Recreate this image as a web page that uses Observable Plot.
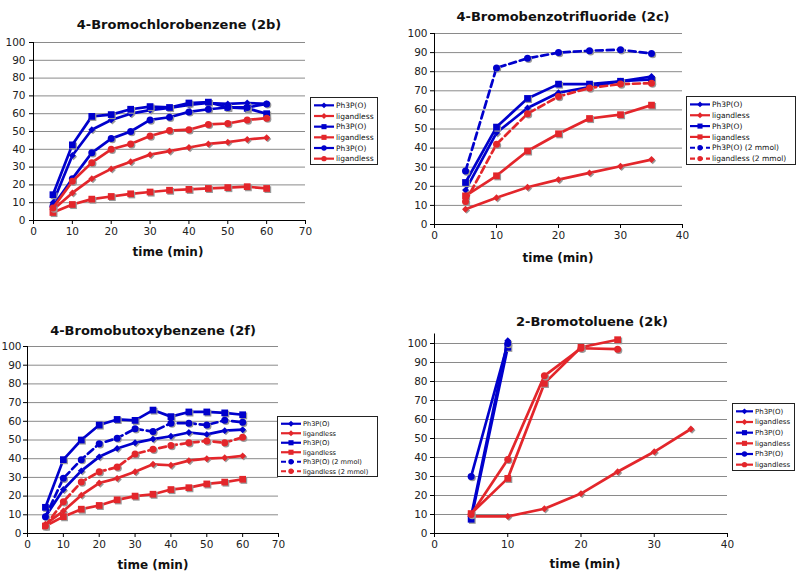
<!DOCTYPE html>
<html><head><meta charset="utf-8">
<script src="https://cdn.jsdelivr.net/npm/d3@7"></script>
<script src="https://cdn.jsdelivr.net/npm/@observablehq/plot@0.6"></script>
<style>
body{margin:0;background:#fff}
#root{position:relative;width:800px;height:574px;overflow:hidden;background:#fff;font-family:"DejaVu Sans",Verdana,sans-serif}
.title{position:absolute;font-weight:bold;font-size:13px;transform:translate(-50%,-50%);white-space:nowrap;color:#111}
.xlab{position:absolute;font-weight:bold;font-size:12px;transform:translate(-50%,-50%);white-space:nowrap;color:#111}
.chart{position:absolute}
.legend{position:absolute;border:1px solid #222;background:#fff;box-sizing:border-box}
</style></head>
<body><div id="root"></div>
<script>
// ---------- 4-Bromochlorobenzene (2b) ----------
const time2b = [5,10,15,20,25,30,35,40,45,50,55,60];
const ph3po_diamond_2b     = [10,36.5,51,56.5,60,62,63.3,65,66,65.5,66,65.5];
const ligandless_diamond_2b= [6,15.5,23.5,29,33,37,39,41,43,44,45.5,46.5];
const ph3po_square_2b      = [14.5,42.5,58.5,59.5,62.5,64,63.5,66,66.5,63.5,63,60];
const ligandless_square_2b = [4.5,9,12,13.5,15,16,17,17.5,18,18.5,19,18];
const ph3po_circle_2b      = [8,23.5,38,46,50,56.5,58,61,62.5,63.5,63.5,65.5];
const ligandless_circle_2b = [7,22,32.5,40,43,47.5,50.5,51,54,54.5,56.5,57.5];

// ---------- 4-Bromobenzotrifluoride (2c) ----------
const time2c = [5,10,15,20,25,30,35];
const ph3po_diamond_2c      = [18,48,61,69,72,75,77.5];
const ligandless_diamond_2c = [8,14,19.5,23.5,27,30.5,34];
const ph3po_square_2c       = [22,51,66,73.5,73.5,75,76];
const ligandless_square_2c  = [15,25.5,38.5,47.5,55.5,57.5,62.5];
const ph3po_2mmol_2c        = [28,82,87,90,91,91.5,89.5];
const ligandless_2mmol_2c   = [12,42,58,67,71.5,73.5,74];

// ---------- 4-Bromobutoxybenzene (2f) ----------
const time2f = [5,10,15,20,25,30,35,40,45,50,55,60];
const ph3po_diamond_2f      = [9,23.5,33.5,41,45.5,48.5,50.5,52,54,53,55,55.5];
const ligandless_diamond_2f = [5,12,20.5,27,29.5,33,37,36.5,39,40,40.5,41.5];
const ph3po_square_2f       = [14,39.5,50,58,61,60.5,66,62.5,65,65,64.5,63.5];
const ligandless_square_2f  = [4,9,13,15,18,20,21,23.5,24.5,26.5,27.5,29];
const ph3po_2mmol_2f        = [9,29.5,39.5,48,51,56,54.5,59,59,58,60.5,59.5];
const ligandless_2mmol_2f   = [4,17,27.5,33,35.5,42.5,45,47,48.5,49.5,48.5,51.5];

// ---------- 2-Bromotoluene (2k) ----------
const time2k_ph3po = [5,10];
const ph3po_diamond_2k = [9,101.5];
const ph3po_square_2k  = [7.5,98];
const ph3po_circle_2k  = [30,100];
const time2k_ligandless_diamond = [5,10,15,20,25,30,35];
const ligandless_diamond_2k = [9,9,13,21,32.5,43,55];
const time2k_ligandless = [5,10,15,20,25];
const ligandless_square_2k = [10.5,29,79,98,102];
const ligandless_circle_2k = [10,39,83,97.5,97];

// ---------- labels ----------
const titles = ["4-Bromochlorobenzene (2b)","4-Bromobenzotrifluoride (2c)","4-Bromobutoxybenzene (2f)","2-Bromotoluene (2k)"];
const xLabel = "time (min)";
const labelPh = "Ph3P(O)", labelLig = "ligandless";

const BLUE = "#0000cc", RED = "#e3262b";

const panels = [
  {title:titles[0], tx:179, ty:24, lx:168, ly:252,
   svg:{left:0, top:30, width:345, height:215, ml:33, mr:40, mt:12, mb:25}, xmax:70, ymax:100, yPad:4,
   legend:{left:310, top:97, width:68, height:68, font:7.5, lineLen:20},
   series:[
    {label:labelPh, t:time2b, v:ph3po_diamond_2b, c:BLUE, sym:"diamond2"},
    {label:labelLig, t:time2b, v:ligandless_diamond_2b, c:RED, sym:"diamond2"},
    {label:labelPh, t:time2b, v:ph3po_square_2b, c:BLUE, sym:"square"},
    {label:labelLig, t:time2b, v:ligandless_square_2b, c:RED, sym:"square"},
    {label:labelPh, t:time2b, v:ph3po_circle_2b, c:BLUE, sym:"circle"},
    {label:labelLig, t:time2b, v:ligandless_circle_2b, c:RED, sym:"circle"}]},
  {title:titles[1], tx:563, ty:16, lx:558, ly:258,
   svg:{left:400, top:25, width:290, height:225, ml:34, mr:8, mt:8, mb:26}, xmax:40, ymax:100, yPad:3,
   legend:{left:686, top:96, width:110, height:69, font:7.5, lineLen:20},
   series:[
    {label:labelPh, t:time2c, v:ph3po_diamond_2c, c:BLUE, sym:"diamond2"},
    {label:labelLig, t:time2c, v:ligandless_diamond_2c, c:RED, sym:"diamond2"},
    {label:labelPh, t:time2c, v:ph3po_square_2c, c:BLUE, sym:"square"},
    {label:labelLig, t:time2c, v:ligandless_square_2c, c:RED, sym:"square"},
    {label:"Ph3P(O) (2 mmol)", t:time2c, v:ph3po_2mmol_2c, c:BLUE, sym:"circle", dash:true},
    {label:"ligandless  (2 mmol)", t:time2c, v:ligandless_2mmol_2c, c:RED, sym:"circle", dash:true}]},
  {title:titles[2], tx:153, ty:330, lx:153, ly:565,
   svg:{left:0, top:336, width:290, height:222, ml:27, mr:12, mt:10, mb:25}, xmax:70, ymax:100, yPad:2,
   legend:{left:277, top:416, width:101, height:61, font:6.6, lineLen:20},
   series:[
    {label:labelPh, t:time2f, v:ph3po_diamond_2f, c:BLUE, sym:"diamond2"},
    {label:labelLig, t:time2f, v:ligandless_diamond_2f, c:RED, sym:"diamond2"},
    {label:labelPh, t:time2f, v:ph3po_square_2f, c:BLUE, sym:"square"},
    {label:labelLig, t:time2f, v:ligandless_square_2f, c:RED, sym:"square"},
    {label:"Ph3P(O)  (2 mmol)", t:time2f, v:ph3po_2mmol_2f, c:BLUE, sym:"circle", dash:true},
    {label:"ligandless (2 mmol)", t:time2f, v:ligandless_2mmol_2f, c:RED, sym:"circle", dash:true}]},
  {title:titles[3], tx:592, ty:321, lx:585, ly:564,
   svg:{left:400, top:323, width:335, height:235, ml:34, mr:8, mt:10.5, mb:25}, xmax:40, ymax:105, yTop:100, yPad:3,
   legend:{left:732, top:403, width:63, height:68, font:7, lineLen:17},
   series:[
    {label:labelPh, t:time2k_ph3po, v:ph3po_diamond_2k, c:BLUE, sym:"diamond2"},
    {label:labelLig, t:time2k_ligandless_diamond, v:ligandless_diamond_2k, c:RED, sym:"diamond2"},
    {label:labelPh, t:time2k_ph3po, v:ph3po_square_2k, c:BLUE, sym:"square"},
    {label:labelLig, t:time2k_ligandless, v:ligandless_square_2k, c:RED, sym:"square"},
    {label:labelPh, t:time2k_ph3po, v:ph3po_circle_2k, c:BLUE, sym:"circle"},
    {label:labelLig, t:time2k_ligandless, v:ligandless_circle_2k, c:RED, sym:"circle"}]}
];

const symR = {diamond2:3.1, square:3.8, circle:3.5};
const root = document.getElementById("root");

function addText(cls, text, x, y) {
  const d = document.createElement("div");
  d.className = cls; d.textContent = text;
  d.style.left = x + "px"; d.style.top = y + "px";
  root.appendChild(d);
}

for (const p of panels) {
  const s = p.svg;
  const yTop = p.yTop ?? p.ymax;
  const yTicks = d3.range(0, yTop + 1, 10);
  const xTicks = d3.range(0, p.xmax + 1, 10);
  const marks = [
    Plot.gridY(yTicks.filter(d => d > 0), {stroke:"#8a8a8a", strokeOpacity:1, strokeWidth:1}),
    Plot.axisY(yTicks, {tickSize:4, tickPadding:p.yPad, stroke:"#000", fill:"#222", label:null}),
    Plot.axisX(xTicks, {tickSize:4, tickPadding:3, stroke:"#000", fill:"#222", label:null}),
    Plot.ruleX([0], {stroke:"#000", strokeWidth:1}),
    Plot.ruleY([0], {stroke:"#000", strokeWidth:1})
  ];
  for (const ser of p.series) {
    const data = ser.t.map((t, i) => ({t, v: ser.v[i]}));
    marks.push(Plot.line(data, {x:"t", y:"v", stroke:ser.c, strokeWidth:2.7,
      strokeDasharray: ser.dash ? "7,4" : null, strokeLinejoin:"round"}));
    marks.push(Plot.dot(data, {x:"t", y:"v", symbol:ser.sym, r:symR[ser.sym], fill:"#999", dx:1.2, dy:1.2}));
    marks.push(Plot.dot(data, {x:"t", y:"v", symbol:ser.sym, r:symR[ser.sym], fill:ser.c}));
  }
  const chart = Plot.plot({
    width:s.width, height:s.height,
    marginLeft:s.ml, marginRight:s.mr, marginTop:s.mt, marginBottom:s.mb,
    x:{domain:[0, p.xmax], label:null},
    y:{domain:[0, p.ymax], label:null},
    style:{fontFamily:'"DejaVu Sans",Verdana,sans-serif', fontSize:"10.5px", background:"transparent", overflow:"visible"},
    marks
  });
  chart.classList.add("chart");
  chart.style.left = s.left + "px"; chart.style.top = s.top + "px";
  root.appendChild(chart);

  addText("title", p.title, p.tx, p.ty);
  addText("xlab", xLabel, p.lx, p.ly);

  // legend
  const L = p.legend;
  const box = document.createElement("div");
  box.className = "legend";
  box.style.left = L.left + "px";
  box.style.top = L.top + "px";
  box.style.width = L.width + "px"; box.style.height = L.height + "px";
  root.appendChild(box);
  const svg = d3.select(box).append("svg").attr("width", L.width - 2).attr("height", L.height - 2)
    .style("position","absolute").style("left","0").style("top","0");
  const rowH = (L.height - 4) / p.series.length;
  const symMap = {diamond2:d3.symbolDiamond2, square:d3.symbolSquare, circle:d3.symbolCircle};
  const symSize = {diamond2:22, square:26, circle:22};
  p.series.forEach((ser, i) => {
    const cy = 2 + rowH * (i + 0.5);
    const x1 = 3, x2 = 3 + L.lineLen, xm = (x1 + x2) / 2;
    const g = svg.append("g");
    g.append("line").attr("x1", x1).attr("x2", x2).attr("y1", cy).attr("y2", cy)
      .attr("stroke", ser.c).attr("stroke-width", 2.2).attr("stroke-dasharray", ser.dash ? "5,3" : null);
    g.append("path").attr("d", d3.symbol(symMap[ser.sym], symSize[ser.sym])())
      .attr("transform", `translate(${xm},${cy})`).attr("fill", ser.c);
    g.append("text").attr("x", x2 + 2).attr("y", cy).attr("dy", "0.35em")
      .attr("font-size", L.font).attr("fill", "#111")
      .attr("font-family", '"DejaVu Sans",Verdana,sans-serif').text(ser.label);
  });
}
</script></body></html>
